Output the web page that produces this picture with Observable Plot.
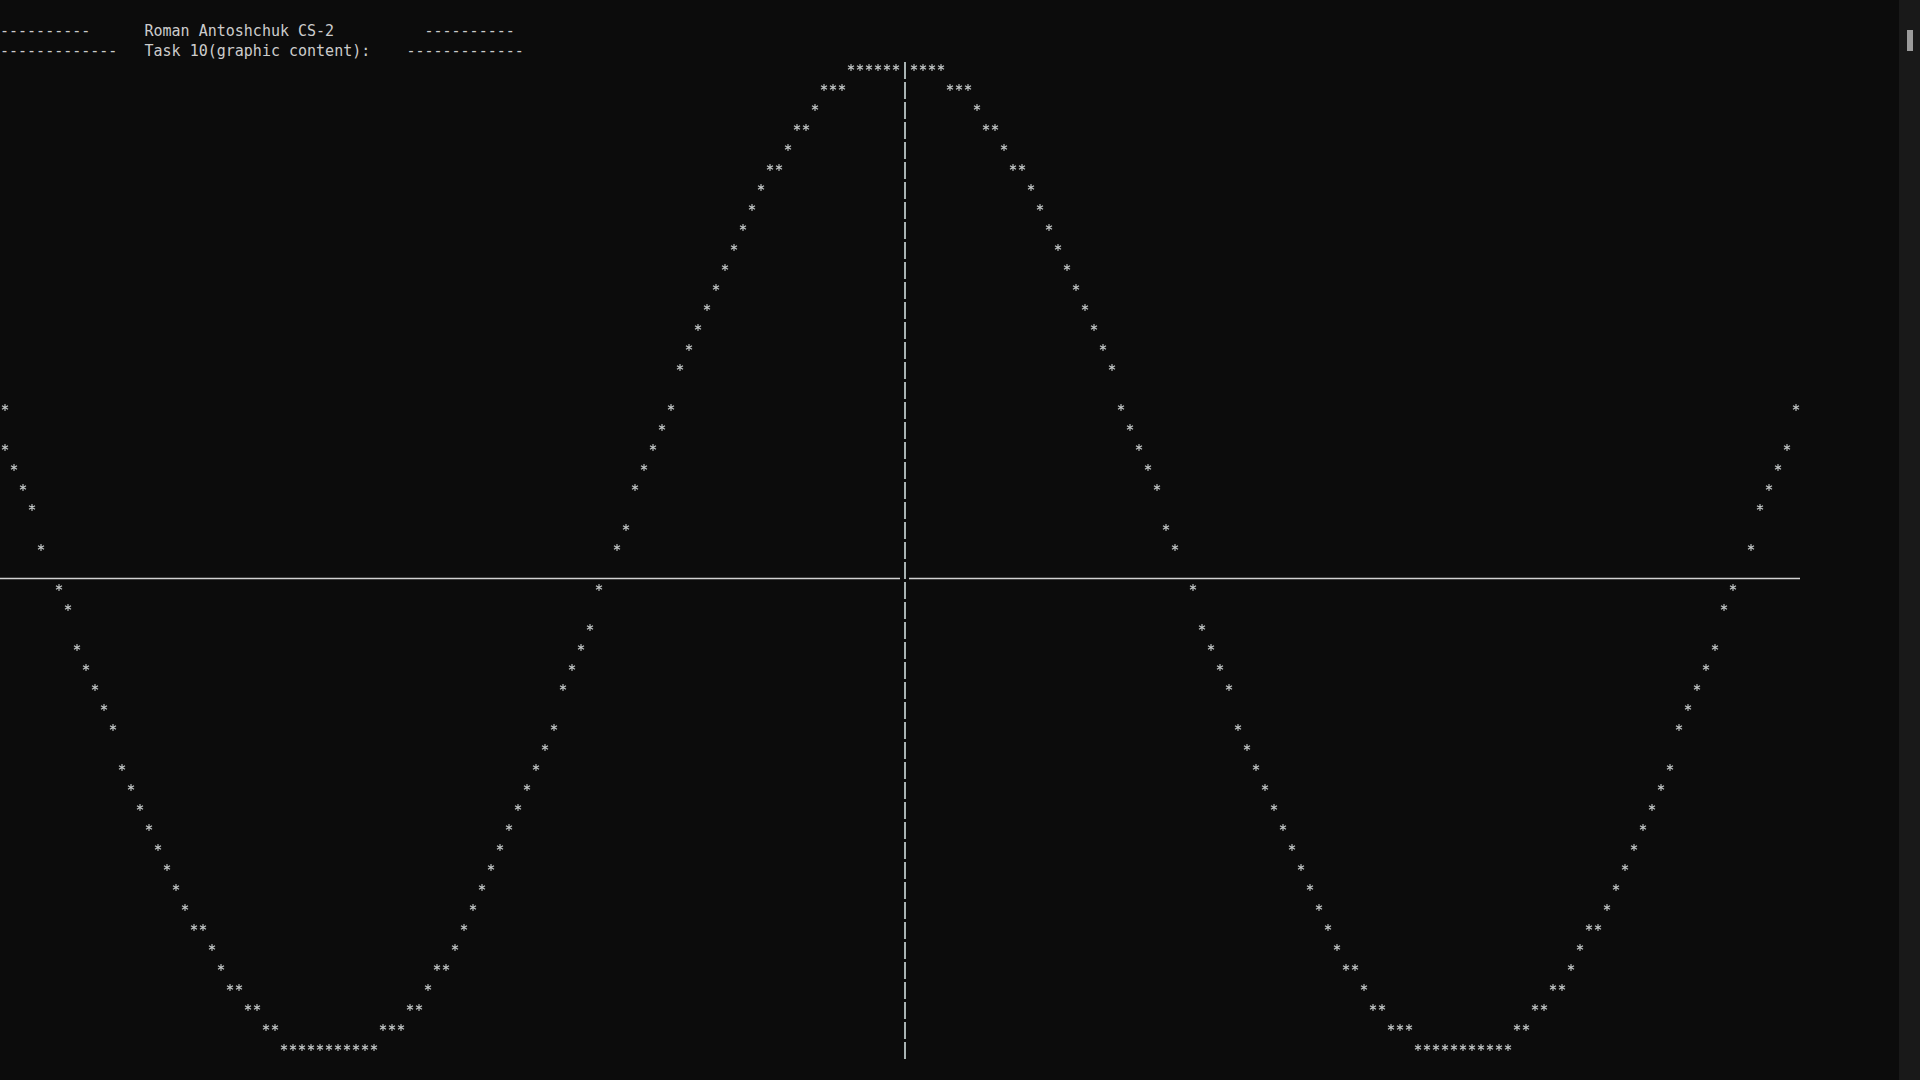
<!DOCTYPE html>
<html>
<head>
<meta charset="utf-8">
<script src="https://cdn.jsdelivr.net/npm/d3@7"></script>
<script src="https://cdn.jsdelivr.net/npm/@observablehq/plot@0.6"></script>
<style>
  html, body { margin: 0; padding: 0; background: #0c0c0c; width: 1920px; height: 1080px; overflow: hidden; }
  #header { margin: 0; padding: 21px 0 0 0; height: 40px; font: 15px/20px "DejaVu Sans Mono", monospace; color: #cccccc; white-space: pre; }
  #chart svg { display: block; }
  #track { position: absolute; left: 1899px; top: 0; width: 21px; height: 1080px; background: #191919; }
  #thumb { position: absolute; left: 1907px; top: 30px; width: 6px; height: 21px; background: #9b9b9b; }
</style>
</head>
<body>
<div id="header"></div>
<div id="chart"></div>
<div id="track"></div>
<div id="thumb"></div>
<script>
// ---- header text (console lines above the graph) ----
const headerLines = [
  "----------      Roman Antoshchuk CS-2          ----------",
  "-------------   Task 10(graphic content):    -------------"
];

// ---- console grid: rows 0..49, columns 0..199, axes ----
const firstRow = 0, lastRow = 49;
const firstCol = 0, lastCol = 199;
const axisRow = 25;   // row holding the horizontal axis line
const axisCol = 100;  // column holding the vertical "|" axis

// ---- star runs: [row, fromCol, toCol] ----
const leftEdgeRuns = [
  [17,0,0],[19,0,0],[20,1,1],[21,2,2],[22,3,3],[24,4,4],[26,6,6],[27,7,7],
  [29,8,8],[30,9,9],[31,10,10],[32,11,11],[33,12,12],[35,13,13],[36,14,14],
  [37,15,15],[38,16,16],[39,17,17],[40,18,18],[41,19,19],[42,20,20],[43,21,22],
  [44,23,23],[45,24,24],[46,25,26],[47,27,28],[48,29,30]
];
const leftValleyRuns = [[49,31,41]];
const leftRiseRuns = [
  [48,42,44],[47,45,46],[46,47,47],[45,48,49],[44,50,50],[43,51,51],[42,52,52],
  [41,53,53],[40,54,54],[39,55,55],[38,56,56],[37,57,57],[36,58,58],[35,59,59],
  [34,60,60],[33,61,61],[31,62,62],[30,63,63],[29,64,64],[28,65,65],[26,66,66],
  [24,68,68],[23,69,69],[21,70,70],[20,71,71],[19,72,72],[18,73,73],[17,74,74],
  [15,75,75],[14,76,76],[13,77,77],[12,78,78],[11,79,79],[10,80,80],[9,81,81],
  [8,82,82],[7,83,83],[6,84,84],[5,85,86],[4,87,87],[3,88,89],[2,90,90],
  [1,91,93],[0,94,99]
];
const rightFallRuns = [
  [0,101,104],[1,105,107],[2,108,108],[3,109,110],[4,111,111],[5,112,113],
  [6,114,114],[7,115,115],[8,116,116],[9,117,117],[10,118,118],[11,119,119],
  [12,120,120],[13,121,121],[14,122,122],[15,123,123],[17,124,124],[18,125,125],
  [19,126,126],[20,127,127],[21,128,128],[23,129,129],[24,130,130],[26,132,132],
  [28,133,133],[29,134,134],[30,135,135],[31,136,136],[33,137,137],[34,138,138],
  [35,139,139],[36,140,140],[37,141,141],[38,142,142],[39,143,143],[40,144,144],
  [41,145,145],[42,146,146],[43,147,147],[44,148,148],[45,149,150],[46,151,151],
  [47,152,153],[48,154,156]
];
const rightValleyRuns = [[49,157,167]];
const rightEdgeRuns = [
  [48,168,169],[47,170,171],[46,172,173],[45,174,174],[44,175,175],[43,176,177],
  [42,178,178],[41,179,179],[40,180,180],[39,181,181],[38,182,182],[37,183,183],
  [36,184,184],[35,185,185],[33,186,186],[32,187,187],[31,188,188],[30,189,189],
  [29,190,190],[27,191,191],[26,192,192],[24,194,194],[22,195,195],[21,196,196],
  [20,197,197],[19,198,198],[17,199,199]
];

// ---- build the table Plot needs ----
const allRuns = [leftEdgeRuns, leftValleyRuns, leftRiseRuns, rightFallRuns, rightValleyRuns, rightEdgeRuns].flat();
const stars = allRuns.flatMap(([row, c0, c1]) => d3.range(c0, c1 + 1).map(col => ({row, col})));
const axisSegments = [
  {x1: firstCol - 0.5, x2: axisCol - 0.5},
  {x1: axisCol + 0.5, x2: lastCol + 0.5}
];
const axisRows = d3.range(firstRow, lastRow + 1);

document.getElementById("header").textContent = headerLines.join("\n");

const W = 1920, H = 1019;
const cellW = 9, cellH = 20;

const chart = Plot.plot({
  width: W,
  height: H,
  margin: 0,
  style: {background: "#0c0c0c", overflow: "visible"},
  x: {domain: [-0.5, W / cellW - 0.5], range: [0, W], axis: null},
  y: {domain: [-0.3, H / cellH - 0.3], range: [0, H], axis: null},
  marks: [
    Plot.ruleY(axisSegments, {y: () => axisRow, x1: "x1", x2: "x2", dy: 11, stroke: "#d2d2d2", strokeWidth: 1.3}),
    Plot.ruleX(axisRows, {x: () => axisCol, y1: r => r - 0.25, y2: r => r + 0.6, stroke: "#a9b4b4", strokeWidth: 2}),
    Plot.dot(stars, {x: "col", y: "row", symbol: "asterisk", r: 3.3, stroke: "#c2c6c6", strokeWidth: 1.1})
  ]
});
document.getElementById("chart").appendChild(chart);
</script>
</body>
</html>
